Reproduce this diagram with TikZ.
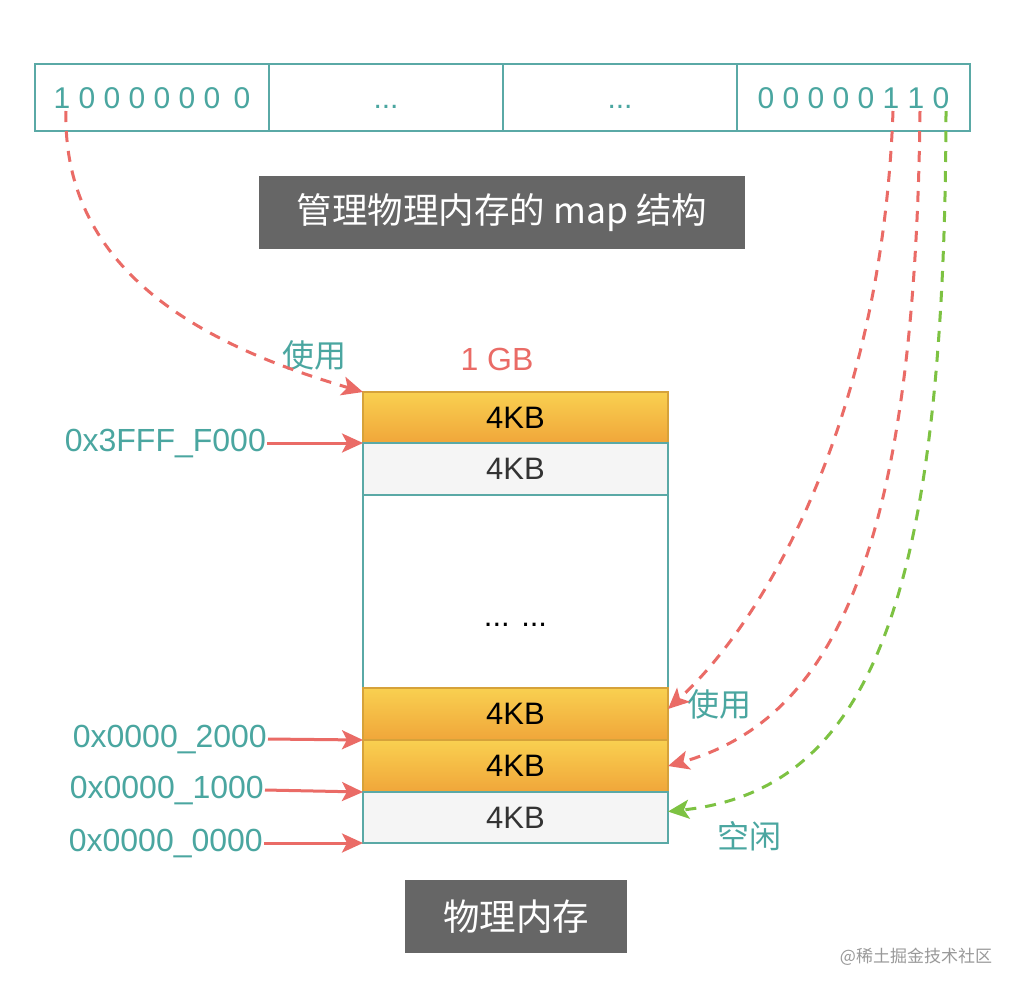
\documentclass[tikz,border=0pt]{standalone}
\usepackage{fontspec}
\setmainfont{Liberation Sans}
\newfontfamily\cjk{Noto Sans CJK SC}
\usetikzlibrary{arrows.meta,calc}
\definecolor{teal1}{HTML}{4AA6A0}
\definecolor{tealb}{HTML}{5AA9A6}
\definecolor{redc}{HTML}{EA6B66}
\definecolor{greenc}{HTML}{7DC242}
\definecolor{darkbox}{HTML}{666666}
\definecolor{orgtop}{HTML}{F9D050}
\definecolor{orgbot}{HTML}{F0A63A}
\definecolor{orgb}{HTML}{D6A23A}
\definecolor{grayf}{HTML}{F5F5F5}
\tikzset{
  mapcell/.style={draw=tealb, line width=2pt, minimum height=67pt, inner sep=0pt, outer sep=0pt, text=teal1, font=\fontsize{30}{32}\selectfont, text height=21.5pt, text depth=0pt},
  titlebox/.style={fill=darkbox, text=white, inner sep=0pt, minimum height=73pt},
  orangerow/.style={draw=orgb, line width=1.5pt, top color=orgtop, bottom color=orgbot, minimum width=305pt, inner sep=0pt, outer sep=0pt, font=\fontsize{31}{33}\selectfont, text=black},
  grayrow/.style={draw=tealb, line width=1.5pt, fill=grayf, minimum width=305pt, inner sep=0pt, outer sep=0pt, font=\fontsize{31}{33}\selectfont, text=black!80},
  addrlbl/.style={text=teal1, font=\fontsize{32}{34}\selectfont, inner sep=1pt, anchor=east},
  cjklbl/.style={text=teal1, font=\cjk\fontsize{32}{34}\selectfont, inner sep=0pt},
  solidarr/.style={draw=redc, line width=3pt, -{Stealth[length=21pt,width=19pt,inset=5pt]}},
  dasharr/.style={line width=3pt, dash pattern=on 11pt off 9pt, -{Stealth[length=21pt,width=19pt,inset=5pt]}},
}
\begin{document}
\begin{tikzpicture}[x=1pt,y=-1pt]
\useasboundingbox (0,0) rectangle (1022,994);
\fill[white] (0,0) rectangle (1022,994);
% map bar
\node[mapcell, minimum width=234pt] (c1) at (152,97.5) {1 0 0 0 0 0 0\, 0};
\node[mapcell, minimum width=234pt] (c2) at (386,97.5) {...};
\node[mapcell, minimum width=234pt] (c3) at (620,97.5) {...};
\node[mapcell, minimum width=233pt] (c4) at (853.5,97.5) {0 0 0 0 0 1 1 0};
% titles
\node[titlebox, minimum width=486pt, font=\cjk\fontsize{35.5}{37}\selectfont] (t1) at (502,212.5) {管理物理内存的 map 结构};
\node[titlebox, minimum width=222pt, font=\cjk\fontsize{36.5}{38}\selectfont] (t2) at (516,916.5) {物理内存};
% memory
\node[orangerow, minimum height=51pt] (r1) at (515.5,417.5) {4KB};
\node[grayrow, minimum height=52pt] (r2) at (515.5,469) {4KB};
\node[draw=tealb, line width=1.5pt, fill=white, minimum width=305pt, minimum height=193pt, inner sep=0pt, outer sep=0pt] (r3) at (515.5,591.5) {};
\node[font=\fontsize{31}{33}\selectfont, inner sep=0pt, text height=22pt, text depth=0pt] (dots) at (515.5,615) {... ...};
\node[orangerow, minimum height=52pt] (r4) at (515.5,714) {4KB};
\node[orangerow, minimum height=52pt] (r5) at (515.5,766) {4KB};
\node[grayrow, minimum height=51pt] (r6) at (515.5,817.5) {4KB};
% labels
\node[text=redc, font=\fontsize{32}{34}\selectfont, inner sep=0pt] (gb) at (497,359) {1 GB};
\node[cjklbl] (use1) at (314,355) {使用};
\node[cjklbl] (use2) at (719,704) {使用};
\node[cjklbl] (free) at (749,836) {空闲};
\node[text=black!40, font=\cjk\fontsize{17}{19}\selectfont, inner sep=0pt] (wm) at (916,957) {@稀土掘金技术社区};
% addresses
\node[addrlbl] (a1) at (267,443) {0x3FFF\_F000};
\node[addrlbl] (a2) at (268,739) {0x0000\_2000};
\node[addrlbl] (a3) at (265,790) {0x0000\_1000};
\node[addrlbl] (a4) at (264,843) {0x0000\_0000};
\draw[solidarr] (a1.east) -- (r1.south west);
\draw[solidarr] (a2.east) -- (r4.south west);
\draw[solidarr] (a3.east) -- (r5.south west);
\draw[solidarr] (a4.east) -- (r6.south west);
% dashed connectors
\coordinate (s1) at (66,111);
\coordinate (s2) at (893,111);
\coordinate (s3) at (920,111);
\coordinate (s4) at (946,111);
\draw[dasharr, draw=redc] (s1) .. controls (62,280) and (220,350) .. (r1.north west);
\draw[dasharr, draw=redc] (s2) .. controls (882,420) and (765,620) .. ([yshift=5pt]r4.east);
\draw[dasharr, draw=redc] (s3) .. controls (915,560) and (830,720) .. (r5.east);
\draw[dasharr, draw=greenc] (s4) .. controls (945,600) and (870,790) .. ([yshift=6pt]r6.east);
\end{tikzpicture}
\end{document}
